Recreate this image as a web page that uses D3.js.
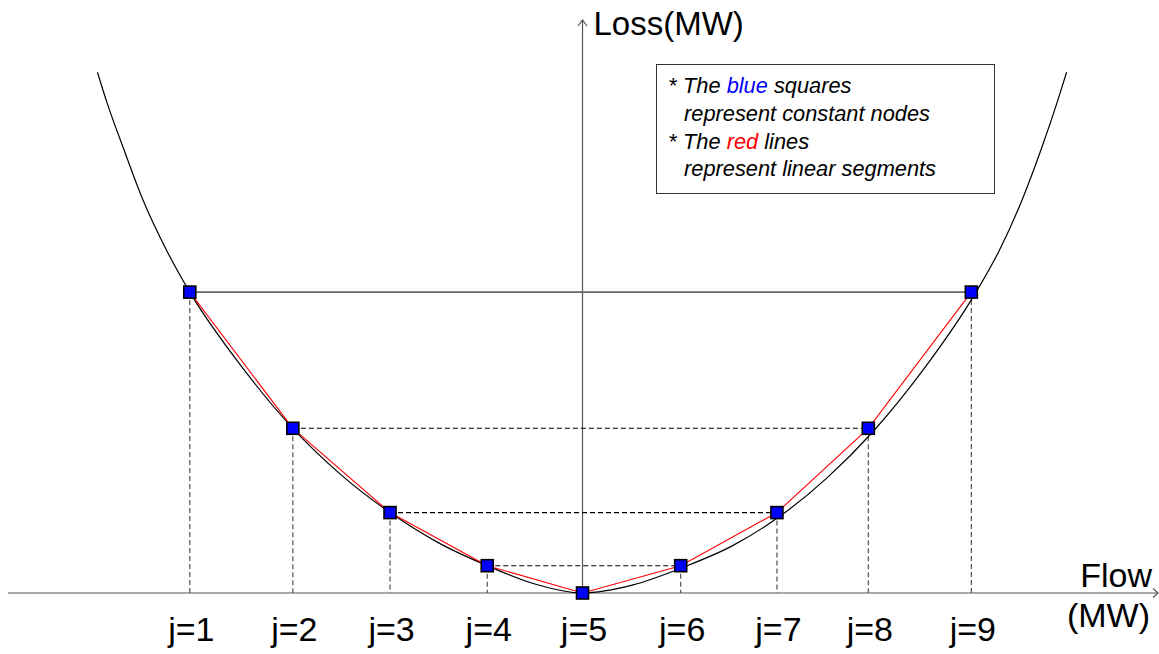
<!DOCTYPE html>
<html>
<head>
<meta charset="utf-8">
<script src="https://cdn.jsdelivr.net/npm/d3@7"></script>
<style>
	body { margin: 0; background: #fff; }
	svg { display: block; font-family: "Liberation Sans", Arial, sans-serif; }
</style>
</head>
<body>
<svg id="chart" width="1159" height="654"></svg>
<script>
'use strict';

// constant nodes j=1..9 (flow, loss)
const nodeNames = ["j=1", "j=2", "j=3", "j=4", "j=5", "j=6", "j=7", "j=8", "j=9"];
const nodeFlow = [-4.04, -2.98, -1.98, -0.98, 0, 1.01, 2.0, 2.94, 4.0];
const nodeLoss = [10.03, 5.49, 2.68, 0.91, 0, 0.91, 2.68, 5.49, 10.03];

// loss curve
const curveFlow = [-4.99, -4.89, -4.73, -4.53, -4.27, -4.04, -3.51, -2.98, -2.48, -1.98, -1.48, -0.98, -0.49, 0,
	0.52, 1.03, 1.54, 2.04, 2.51, 2.98, 3.50, 4.02, 4.28, 4.53, 4.73, 4.88, 4.98];
const curveLoss = [17.36, 16.33, 14.89, 13.17, 11.37, 10.03, 7.56, 5.49, 3.93, 2.68, 1.67, 0.91, 0.30, 0,
	0.27, 0.85, 1.57, 2.58, 3.82, 5.35, 7.42, 9.88, 11.37, 13.17, 14.9, 16.33, 17.36];

// pairs joined by horizontal lines (index into nodes)
const levelPairs = [[0, 8], [1, 7], [2, 6], [3, 5]];

const legendLines = [
	[["* ", "#000"], ["The ", "#000"], ["blue", "#0000ff"], [" squares", "#000"]],
	[["represent constant nodes", "#000"]],
	[["* ", "#000"], ["The ", "#000"], ["red", "#ff0000"], [" lines", "#000"]],
	[["represent linear segments", "#000"]]
];

const svg = d3.select("#chart");

const x = d3.scaleLinear().domain([-5.91, 5.92]).range([8, 1158]);
const y = d3.scaleLinear().domain([0, 19.1]).range([593, 20]);

let nodes = nodeFlow.map(function(f, i){ return {name: nodeNames[i], flow: f, loss: nodeLoss[i]}; });
let curve = curveFlow.map(function(f, i){ return [f, curveLoss[i]]; });

// axes
let axisColor = "#555";
let axes = svg.append("g").attr("stroke", axisColor).attr("fill", "none").attr("stroke-width", 1.2);
axes.append("line")
	.attr("x1", x(-5.91)).attr("x2", x(5.92))
	.attr("y1", y(0)).attr("y2", y(0));
axes.append("path")
	.attr("d", "M" + (x(5.92) - 5) + "," + (y(0) - 4.5) + "L" + x(5.92) + "," + y(0) + "L" + (x(5.92) - 5) + "," + (y(0) + 4.5));
axes.append("line")
	.attr("x1", x(0)).attr("x2", x(0))
	.attr("y1", y(0)).attr("y2", y(19.1));
axes.append("path")
	.attr("d", "M" + (x(0) - 4.5) + "," + (y(19.1) + 6) + "L" + x(0) + "," + y(19.1) + "L" + (x(0) + 4.5) + "," + (y(19.1) + 6));

// tick labels j=1..9
let xAxis = d3.axisBottom(x)
	.tickValues(nodeFlow)
	.tickFormat(function(d, i){ return nodeNames[i]; })
	.tickSize(0)
	.tickPadding(24);
let gx = svg.append("g")
	.attr("transform", "translate(1," + y(0) + ")")
	.call(xAxis);
gx.select(".domain").remove();
gx.selectAll("text")
	.attr("font-size", 34)
	.attr("font-family", "'Liberation Sans', Arial, sans-serif")
	.attr("fill", "#000");

// axis titles
svg.append("text")
	.attr("x", x(0) + 11).attr("y", 35)
	.attr("font-size", 33)
	.text("Loss(MW)");
svg.append("text")
	.attr("x", 1152).attr("y", 587)
	.attr("text-anchor", "end")
	.attr("font-size", 34)
	.text("Flow");
svg.append("text")
	.attr("x", 1150).attr("y", 627)
	.attr("text-anchor", "end")
	.attr("font-size", 34)
	.text("(MW)");

// vertical dashed drops
svg.append("g")
	.selectAll("line")
	.data(nodes)
	.enter()
	.append("line")
	.attr("x1", function(d){ return x(d.flow); })
	.attr("x2", function(d){ return x(d.flow); })
	.attr("y1", function(d){ return y(d.loss); })
	.attr("y2", y(0))
	.attr("stroke", "#555")
	.attr("stroke-width", 1.2)
	.attr("stroke-dasharray", "5,3");

// horizontal level lines
svg.append("g")
	.selectAll("line")
	.data(levelPairs)
	.enter()
	.append("line")
	.attr("x1", function(p){ return x(nodes[p[0]].flow); })
	.attr("x2", function(p){ return x(nodes[p[1]].flow); })
	.attr("y1", function(p){ return y(nodes[p[0]].loss); })
	.attr("y2", function(p){ return y(nodes[p[1]].loss); })
	.attr("stroke", function(p, i){ return i == 0 ? "#666" : "#000"; })
	.attr("stroke-width", function(p, i){ return i == 0 ? 1.6 : 1.1; })
	.attr("stroke-dasharray", function(p, i){ return i == 0 ? null : "5,3"; });

// loss curve
let line = d3.line()
	.x(function(d){ return x(d[0]); })
	.y(function(d){ return y(d[1]); })
	.curve(d3.curveMonotoneX);
svg.append("path")
	.datum(curve)
	.attr("d", line)
	.attr("fill", "none")
	.attr("stroke", "#000")
	.attr("stroke-width", 1.2);

// linear segments
let segLine = d3.line()
	.x(function(d){ return x(d.flow); })
	.y(function(d){ return y(d.loss); });
svg.append("path")
	.datum(nodes)
	.attr("d", segLine)
	.attr("fill", "none")
	.attr("stroke", "#ff0000")
	.attr("stroke-width", 1.1);

// constant nodes
let size = 12;
svg.append("g")
	.selectAll("rect")
	.data(nodes)
	.enter()
	.append("rect")
	.attr("x", function(d){ return x(d.flow) - size / 2; })
	.attr("y", function(d){ return y(d.loss) - size / 2; })
	.attr("width", size)
	.attr("height", size)
	.attr("fill", "#0000ff")
	.attr("stroke", "#000")
	.attr("stroke-width", 1.6);

// legend
let legend = svg.append("g");
legend.append("rect")
	.attr("x", 656.5).attr("y", 64.5)
	.attr("width", 338).attr("height", 129)
	.attr("fill", "#fff")
	.attr("stroke", "#333")
	.attr("stroke-width", 1);
legendLines.forEach(function(parts, i){
	let t = legend.append("text")
		.attr("x", parts.length > 1 ? 668 : 684)
		.attr("y", 93 + i * 27.8)
		.attr("font-size", 21.8)
		.attr("font-style", "italic");
	parts.forEach(function(p, k){
		let s = t.append("tspan").attr("fill", p[1]).text(p[0]);
		if (k == 1) s.attr("x", 683);
	});
});
</script>
</body>
</html>
